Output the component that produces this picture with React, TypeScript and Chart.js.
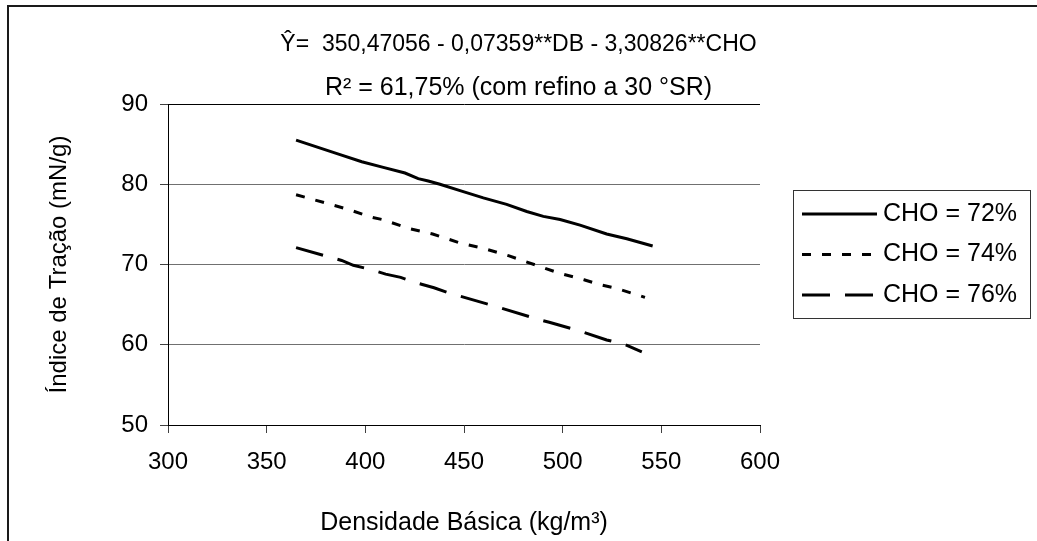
import React, { useEffect, useRef } from 'react';
import { Chart, registerables } from 'chart.js';

Chart.register(...registerables);

const FONT = '"Liberation Sans", Arial, Helvetica, sans-serif';

// ---- Text ----
const titleLine1 = 'Ŷ=  350,47056 - 0,07359**DB - 3,30826**CHO';
const titleLine2 = 'R² = 61,75% (com refino a 30 °SR)';
const xAxisTitle = 'Densidade Básica (kg/m³)';
const yAxisTitle = 'Índice de Tração (mN/g)';
const seriesLabels = ['CHO = 72%', 'CHO = 74%', 'CHO = 76%'];

// ---- Axis ranges ----
const xMin = 300;
const xMax = 600;
const xStep = 50;
const yMin = 50;
const yMax = 90;
const yStep = 10;

// ---- Series ----
const dbCho72 = [364.9, 387.2, 398.2, 409.1, 420.1, 426.8, 431.9, 437.8, 448.0, 459.8, 471.6, 481.8, 490.2, 498.7, 508.8, 522.3, 532.5, 545.6];
const itCho72 = [85.5, 83.7, 82.8, 82.1, 81.4, 80.7, 80.4, 80.0, 79.2, 78.3, 77.5, 76.6, 76.0, 75.6, 74.9, 73.8, 73.2, 72.3];

const dbCho74 = [364.9, 390.9, 402.9, 408.6, 422.0, 434.1, 447.8, 460.0, 472.5, 485.5, 498.5, 510.8, 518.6, 527.7, 541.7];
const itCho74 = [78.7, 76.9, 75.9, 75.6, 74.5, 73.8, 72.7, 72.0, 71.1, 70.0, 68.9, 68.1, 67.5, 67.0, 65.9];

const dbCho76 = [364.9, 388.0, 393.9, 402.4, 410.3, 417.9, 426.0, 434.8, 443.1, 463.0, 488.5, 493.2, 508.8, 522.3, 530.8, 540.1];
const itCho76 = [72.1, 70.5, 69.9, 69.4, 68.8, 68.4, 67.7, 67.1, 66.4, 65.0, 63.1, 62.8, 61.7, 60.6, 60.1, 59.1];

const seriesDash = [[], [9, 11], [28, 15]];

const toPoints = (xs: number[], ys: number[]) => xs.map((x, i) => ({ x, y: ys[i] }));

const framePlugin = {
  id: 'frame',
  beforeDraw(chart: any) {
    const { ctx, width, height } = chart;
    ctx.save();
    ctx.fillStyle = '#ffffff';
    ctx.fillRect(0, 0, width, height);
    ctx.strokeStyle = '#1a1a1a';
    ctx.lineWidth = 2;
    ctx.beginPath();
    ctx.moveTo(8, height);
    ctx.lineTo(8, 6);
    ctx.lineTo(width, 6);
    ctx.stroke();
    ctx.restore();
  },
};

const boxedLegendPlugin = {
  id: 'boxedLegend',
  afterDraw(chart: any) {
    const { ctx } = chart;
    const left = 793;
    const top = 190;
    const w = 237;
    const h = 128;
    ctx.save();
    ctx.strokeStyle = '#333333';
    ctx.lineWidth = 1;
    ctx.strokeRect(left + 0.5, top + 0.5, w, h);
    chart.data.datasets.forEach((ds: any, i: number) => {
      const y = 214 + i * 40.5;
      ctx.beginPath();
      ctx.setLineDash(ds.borderDash || []);
      ctx.lineWidth = ds.borderWidth;
      ctx.strokeStyle = ds.borderColor;
      ctx.moveTo(802, y);
      ctx.lineTo(877, y);
      ctx.stroke();
      ctx.setLineDash([]);
      ctx.fillStyle = '#000';
      ctx.font = `25px ${FONT}`;
      ctx.textBaseline = 'middle';
      ctx.textAlign = 'left';
      ctx.fillText(ds.label, 883, y);
    });
    ctx.restore();
  },
};

export default function App() {
  const ref = useRef<HTMLCanvasElement>(null);

  useEffect(() => {
    const canvas = ref.current;
    if (!canvas) return;
    const xs = [dbCho72, dbCho74, dbCho76];
    const ys = [itCho72, itCho74, itCho76];
    const chart = new Chart(canvas, {
      type: 'line',
      data: {
        datasets: seriesLabels.map((label, i) => ({
          label,
          data: toPoints(xs[i], ys[i]),
          borderColor: '#000000',
          backgroundColor: '#000000',
          borderWidth: 3,
          borderDash: seriesDash[i],
          pointRadius: 0,
          tension: 0,
          fill: false,
        })),
      },
      options: {
        responsive: false,
        animation: false,
        layout: { padding: 0 },
        plugins: {
          legend: { display: false },
          tooltip: { enabled: false },
          title: {
            display: true,
            text: titleLine1,
            color: '#000',
            font: { family: FONT, size: 23, weight: 'normal' },
            padding: { top: 31.2, bottom: 0 },
          },
          subtitle: {
            display: true,
            text: titleLine2,
            color: '#000',
            font: { family: FONT, size: 25, weight: 'normal' },
            padding: { top: 14.2, bottom: 1 },
          },
        },
        scales: {
          x: {
            type: 'linear',
            position: 'bottom',
            min: xMin,
            max: xMax,
            ticks: {
              stepSize: xStep,
              color: '#000',
              padding: 15,
              maxRotation: 0,
              font: { family: FONT, size: 24 },
            },
            grid: {
              drawOnChartArea: false,
              drawTicks: true,
              tickLength: 8,
              tickColor: '#404040',
            },
            border: { display: true, color: '#000', width: 1 },
            title: {
              display: true,
              text: xAxisTitle,
              color: '#000',
              font: { family: FONT, size: 25 },
              padding: { top: 0, bottom: 3 },
            },
            afterFit(scale: any) {
              scale.height = 116;
            },
          },
          y: {
            type: 'linear',
            position: 'left',
            min: yMin,
            max: yMax,
            ticks: {
              stepSize: yStep,
              color: '#000',
              padding: 12,
              font: { family: FONT, size: 24 },
            },
            grid: {
              color: (c: any) => (c.tick && c.tick.value === yMax ? '#000000' : '#707070'),
              lineWidth: 1,
              tickLength: 8,
              tickColor: '#404040',
            },
            border: { display: true, color: '#000', width: 1 },
            title: {
              display: true,
              text: yAxisTitle,
              color: '#000',
              font: { family: FONT, size: 24 },
              padding: { top: 44.6, bottom: 0 },
            },
            afterFit(scale: any) {
              scale.width = 168;
            },
          },
          legendSpace: {
            type: 'linear',
            position: 'right',
            display: true,
            ticks: { display: false },
            grid: { display: false, drawTicks: false },
            border: { display: false },
            afterFit(scale: any) {
              scale.width = 277;
            },
          },
        },
      },
      plugins: [framePlugin, boxedLegendPlugin],
    } as any);
    return () => chart.destroy();
  }, []);

  return (
    <div style={{ position: 'absolute', left: 0, top: 0, width: 1037, height: 541 }}>
      <canvas ref={ref} width={1037} height={541} style={{ display: 'block' }} />
    </div>
  );
}
